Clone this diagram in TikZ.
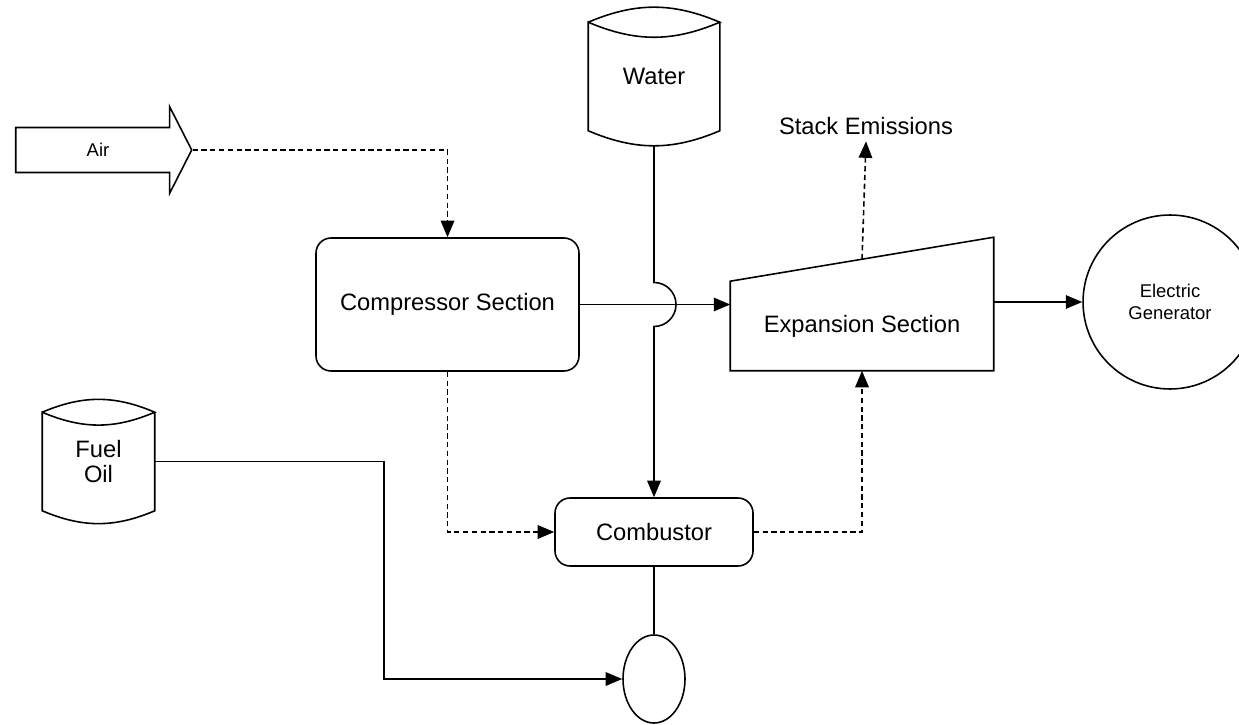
\documentclass[tikz,border=0pt]{standalone}
\usepackage{fontspec}
\setmainfont{Liberation Sans}
\usetikzlibrary{shapes.geometric, shapes.arrows, arrows.meta}
\usetikzlibrary{calc}
\tikzset{
unitbox/.style={
	rectangle,
	rounded corners=0.3cm,
	draw=black,
	line width=0.9pt,
	font=\fontsize{13.5}{15}\selectfont,
	inner sep=0pt
},
tank/.style={
	rectangle,
	font=\fontsize{13.5}{14}\selectfont,
	align=center,
	inner sep=0pt
},
arrow/.style={
	-{Triangle[length=0.33cm,width=0.27cm]},
	line width=0.9pt
},
dasharrow/.style={
	arrow,
	dash pattern=on 3pt off 2pt
}
}

% storage drum drawn round a plain node
\newcommand{\tankoutline}[1]{%
  \draw (#1.north west) to[bend left=23] (#1.north east)
        to[bend left=23] (#1.north west) -- (#1.south west)
        to[bend right=23] (#1.south east) -- (#1.north east);}

\begin{document}
\begin{tikzpicture}[x=0.02cm, y=0.02cm, line width=0.9pt]
\useasboundingbox (0,0) rectangle (1239,724);

\node (Water) [tank, minimum width=2.6cm, minimum height=2.14cm] at (654,647.5) {Water};
\node (Fuel) [tank, minimum width=2.22cm, minimum height=1.94cm] at (98.5,262.5) {Fuel\\Oil};
\tankoutline{Water}
\tankoutline{Fuel}

\node (Air) [single arrow, draw, minimum height=3.52cm, minimum width=1.72cm,
  inner ysep=0.3cm, single arrow head extend=0.42cm, single arrow tip angle=126,
  font=\fontsize{10.5}{12}\selectfont] at (98,574) {Air};

\node (Compressor) [unitbox, minimum width=5.26cm, minimum height=2.66cm] at (447.5,419.5) {Compressor Section};
\node (Combustor) [unitbox, minimum width=3.96cm, minimum height=1.36cm] at (654,192) {Combustor};
\node (Nozzle) [ellipse, draw, minimum width=1.24cm, minimum height=1.76cm] at (654,45) {};

% expansion stage: box with a sloping top edge
\node (Expansion) [rectangle, minimum width=5.24cm, minimum height=1.76cm,
  font=\fontsize{13.5}{15}\selectfont] at (862,398) {Expansion Section};
\draw (Expansion.south west) -- (Expansion.north west)
  -- ($(Expansion.north east)+(0,44)$) -- (Expansion.south east) -- cycle;
\coordinate (StackBase) at ($(Expansion.north)+(0,22)$);

\node (Stack) [font=\fontsize{13.5}{15}\selectfont] at (866,598) {Stack Emissions};
\node (Generator) [circle, draw, minimum size=3.48cm, align=center,
  font=\fontsize{10.5}{12.5}\selectfont] at (1170,422) {Electric\\Generator};

% air and hot gas path
\draw[dasharrow] (Air.tip) -| (Compressor.north);
\draw[dasharrow] (Compressor.south) |- (Combustor.west);
\draw[dasharrow] (Combustor.east) -| (Expansion.south);
\draw[dasharrow] (StackBase) -- (Stack.south);

% shaft work
\draw[arrow] (Compressor.east) -- (Compressor.east -| Expansion.west);
\draw[arrow] (Expansion.east |- Generator.west) -- (Generator.west);

% water injection, hopping over the shaft line
\draw[arrow] ($(Water.south)+(0,-15)$) -- ($(Water.south |- Compressor.east)+(0,22)$)
  arc[start angle=90, end angle=-90, radius=22] -- (Combustor.north);

% fuel feed
\draw[arrow] (Fuel.east) -- ++(229,0) |- (Nozzle.west);
\draw (Combustor.south) -- (Nozzle.north);

\end{tikzpicture}
\end{document}
